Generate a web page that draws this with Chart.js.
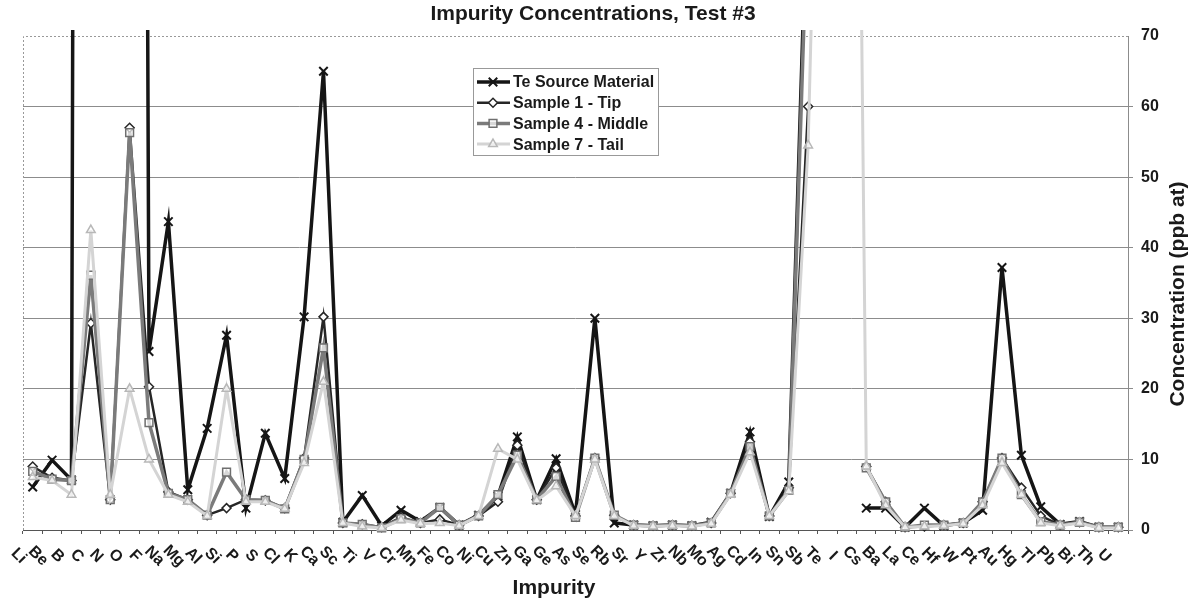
<!DOCTYPE html>
<html>
<head>
<meta charset="utf-8">
<title>Impurity Concentrations, Test #3</title>
<script src="https://cdn.jsdelivr.net/npm/chart.js@4"></script>
<style>
    html, body { margin: 0; padding: 0; background: #fff; }
    #wrap { width: 1202px; height: 603px; }
</style>
</head>
<body>
<div id="wrap"><canvas id="chart" width="1202" height="603"></canvas></div>
<script>
// Impurities along the x axis
const impurities = ['Li', 'Be', 'B', 'C', 'N', 'O', 'F', 'Na', 'Mg', 'Al', 'Si', 'P', 'S', 'Cl', 'K', 'Ca', 'Sc',
    'Ti', 'V', 'Cr', 'Mn', 'Fe', 'Co', 'Ni', 'Cu', 'Zn', 'Ga', 'Ge', 'As', 'Se', 'Rb', 'Sr', 'Y', 'Zr', 'Nb', 'Mo',
    'Ag', 'Cd', 'In', 'Sn', 'Sb', 'Te', 'I', 'Cs', 'Ba', 'La', 'Ce', 'Hf', 'W', 'Pt', 'Au', 'Hg', 'Tl', 'Pb', 'Bi',
    'Th', 'U'];

// Concentrations in ppb at (values above 70 run off the top of the plot)
const teSource = [6.1, 9.9, 7.1, 1000, 900, 700, 25.3, 43.7, 5.7, 14.4, 27.6, 3.1, 13.7, 7.3, 30.2, 65, 1.1,
    4.9, 0.6, 2.8, 1.2, 3.2, 0.7, 2.1, 4.8, 13.2, 4.3, 10.1, 2.2, 30, 1.0, 0.7, 0.6, 0.7, 0.6, 1.1,
    5.2, 13.9, 1.9, 6.8, 95, null, null, 3.1, 3.1, 0.4, 3.1, 0.6, 1.0, 2.8, 37.2, 10.6, 3.3, 0.8, 1.2,
    0.4, 0.4];
const sample1Tip = [9, 7.4, 7, 29.3, 4.3, 57, 20.3, 5.4, 4.3, 2.1, 3.1, 4.3, 4.2, 3.1, 10.2, 30.2, 1.0,
    0.8, 0.4, 1.8, 1.0, 1.5, 0.7, 2.0, 4.0, 12.0, 4.3, 8.8, 2.0, 10.2, 2.1, 0.7, 0.6, 0.7, 0.6, 1.0,
    5.2, 12.5, 2.0, 6.0, 60, null, null, 9, 4, 0.4, 0.5, 0.7, 1.0, 4.0, 10.2, 6.0, 2.0, 0.7, 1.1,
    0.4, 0.4];
const sample4Middle = [8.3, 7.2, 7, 36.1, 4.3, 56.3, 15.2, 5.2, 4.3, 2.1, 8.2, 4.3, 4.2, 3.0, 10.0, 25.8, 1.0,
    0.8, 0.3, 1.6, 1.0, 3.2, 0.7, 2.0, 5.0, 10.6, 4.3, 7.6, 1.8, 10.2, 2.1, 0.7, 0.6, 0.7, 0.6, 1.0,
    5.2, 11.8, 2.0, 5.6, 90, null, null, 8.8, 4.0, 0.4, 0.7, 0.7, 1.0, 4.0, 10.2, 5.0, 1.2, 0.7, 1.1,
    0.4, 0.4];
const sample7Tail = [7.5, 7, 5, 42.5, 5, 20, 10, 5, 4, 2, 20, 4, 4, 3, 9.5, 21, 1,
    0.5, 0.3, 1.4, 0.9, 1.0, 0.6, 2.0, 11.5, 10, 4.2, 6.2, 2.0, 10, 2.0, 0.6, 0.5, 0.6, 0.5, 0.9,
    5, 11, 2, 5.5, 54.5, null, 270, 9, 3.5, 0.4, 0.5, 0.6, 0.9, 3.5, 9.5, 5, 1, 0.6, 1.0,
    0.3, 0.3];

const yTicks = [0, 10, 20, 30, 40, 50, 60, 70];

const FONT = '"Liberation Sans", Arial, sans-serif';
const TEXT = '#1a1a1a';

// titles, rotated category labels and the boxed legend
const chartText = {
    id: 'chartText',
    beforeDatasetsDraw(chart) {
        const a = chart.chartArea;
        const ctx = chart.ctx;
        ctx.save();
        ctx.strokeStyle = '#999';
        ctx.lineWidth = 1;
        ctx.setLineDash([2, 2]);
        ctx.beginPath();
        ctx.moveTo(a.left + 0.5, a.bottom);
        ctx.lineTo(a.left + 0.5, a.top + 0.5);
        ctx.lineTo(a.right, a.top + 0.5);
        ctx.stroke();
        ctx.restore();
    },
    afterDatasetsDraw(chart) {
        const ctx = chart.ctx;
        ctx.save();
        const x0 = 473, y0 = 68, w = 185, h = 87;
        ctx.fillStyle = '#fff';
        ctx.fillRect(x0, y0, w, h);
        ctx.strokeStyle = '#999';
        ctx.lineWidth = 1;
        ctx.strokeRect(x0 + 0.5, y0 + 0.5, w, h);
        ctx.font = 'bold 16px ' + FONT;
        ctx.textBaseline = 'middle';
        chart.data.datasets.forEach((ds, i) => {
            const y = y0 + 14 + i * 20.7;
            ctx.strokeStyle = ds.borderColor;
            ctx.lineWidth = ds.borderWidth;
            ctx.beginPath();
            ctx.moveTo(x0 + 4, y);
            ctx.lineTo(x0 + 37, y);
            ctx.stroke();
            ctx.fillStyle = ds.pointBackgroundColor;
            ctx.strokeStyle = ds.pointBorderColor;
            ctx.lineWidth = ds.pointBorderWidth;
            Chart.helpers.drawPoint(ctx, {
                pointStyle: ds.pointStyle, radius: ds.pointRadius, borderWidth: ds.pointBorderWidth, rotation: 0
            }, x0 + 20, y);
            ctx.fillStyle = TEXT;
            ctx.textAlign = 'left';
            ctx.fillText(ds.label, x0 + 40, y + 1);
        });
        ctx.restore();
    },
    afterDraw(chart) {
        const ctx = chart.ctx;
        const xs = chart.scales.x;
        const a = chart.chartArea;
        ctx.save();
        ctx.fillStyle = TEXT;
        ctx.textAlign = 'center';
        ctx.textBaseline = 'middle';

        ctx.font = 'bold 21px ' + FONT;
        ctx.fillText('Impurity Concentrations, Test #3', 593, 14);
        ctx.fillText('Impurity', 554, 588);

        ctx.save();
        ctx.translate(1178, (a.top + a.bottom) / 2 + 11);
        ctx.rotate(-Math.PI / 2);
        ctx.fillText('Concentration (ppb at)', 0, 0);
        ctx.restore();

        ctx.font = 'bold 16px ' + FONT;
        impurities.forEach((name, i) => {
            const x = xs.getPixelForValue(i) - 14;
            ctx.save();
            ctx.translate(x, a.bottom + 26);
            ctx.rotate(Math.PI / 4);
            ctx.fillText(name, 0, 0);
            ctx.restore();
        });
        ctx.restore();
    }
};

const ctx = document.getElementById('chart').getContext('2d');
new Chart(ctx, {
    type: 'line',
    data: {
        labels: impurities,
        datasets: [{
            label: 'Te Source Material',
            data: teSource,
            borderColor: '#151515',
            borderWidth: 3.5,
            pointStyle: 'crossRot',
            pointRadius: 6,
            pointBorderWidth: 2,
            pointBorderColor: '#151515',
            pointBackgroundColor: '#151515',
            order: 4
        }, {
            label: 'Sample 1 - Tip',
            data: sample1Tip,
            borderColor: '#262626',
            borderWidth: 2.5,
            pointStyle: 'rectRot',
            pointRadius: 4.5,
            pointBorderWidth: 1.5,
            pointBorderColor: '#262626',
            pointBackgroundColor: '#ffffff',
            order: 3
        }, {
            label: 'Sample 4 - Middle',
            data: sample4Middle,
            borderColor: '#7b7b7b',
            borderWidth: 3.5,
            pointStyle: 'rect',
            pointRadius: 5.5,
            pointBorderWidth: 1.5,
            pointBorderColor: '#6f6f6f',
            pointBackgroundColor: 'rgba(255,255,255,0.7)',
            order: 2
        }, {
            label: 'Sample 7 - Tail',
            data: sample7Tail,
            borderColor: '#d4d4d4',
            borderWidth: 3,
            pointStyle: 'triangle',
            pointRadius: 5,
            pointBorderWidth: 1.5,
            pointBorderColor: '#b8b8b8',
            pointBackgroundColor: 'rgba(255,255,255,0.6)',
            spanGaps: true,
            order: 1
        }]
    },
    options: {
        responsive: false,
        animation: false,
        clip: 6,
        tension: 0,
        layout: { padding: { left: 23, top: 36, right: 0, bottom: 0 } },
        plugins: {
            legend: { display: false },
            title: { display: false },
            tooltip: { enabled: false }
        },
        scales: {
            x: {
                type: 'category',
                offset: true,
                ticks: { display: false },
                grid: { drawOnChartArea: false, tickLength: 4, color: '#555', offset: true },
                border: { color: '#555', width: 1 },
                afterFit(scale) { scale.height = 73; }
            },
            y: {
                position: 'right',
                min: 0,
                max: 70,
                afterBuildTicks(scale) { scale.ticks = yTicks.map(v => ({ value: v })); },
                ticks: {
                    color: TEXT,
                    padding: 8,
                    font: { family: FONT, size: 16, weight: 'bold' }
                },
                grid: {
                    tickLength: 5,
                    color: c => (c.tick && c.tick.value === 70 ? 'rgba(0,0,0,0)' : '#8c8c8c'),
                    lineWidth: 1
                },
                border: { color: '#8c8c8c', width: 1 },
                afterFit(scale) { scale.width = 74; }
            }
        }
    },
    plugins: [chartText]
});
</script>
</body>
</html>
